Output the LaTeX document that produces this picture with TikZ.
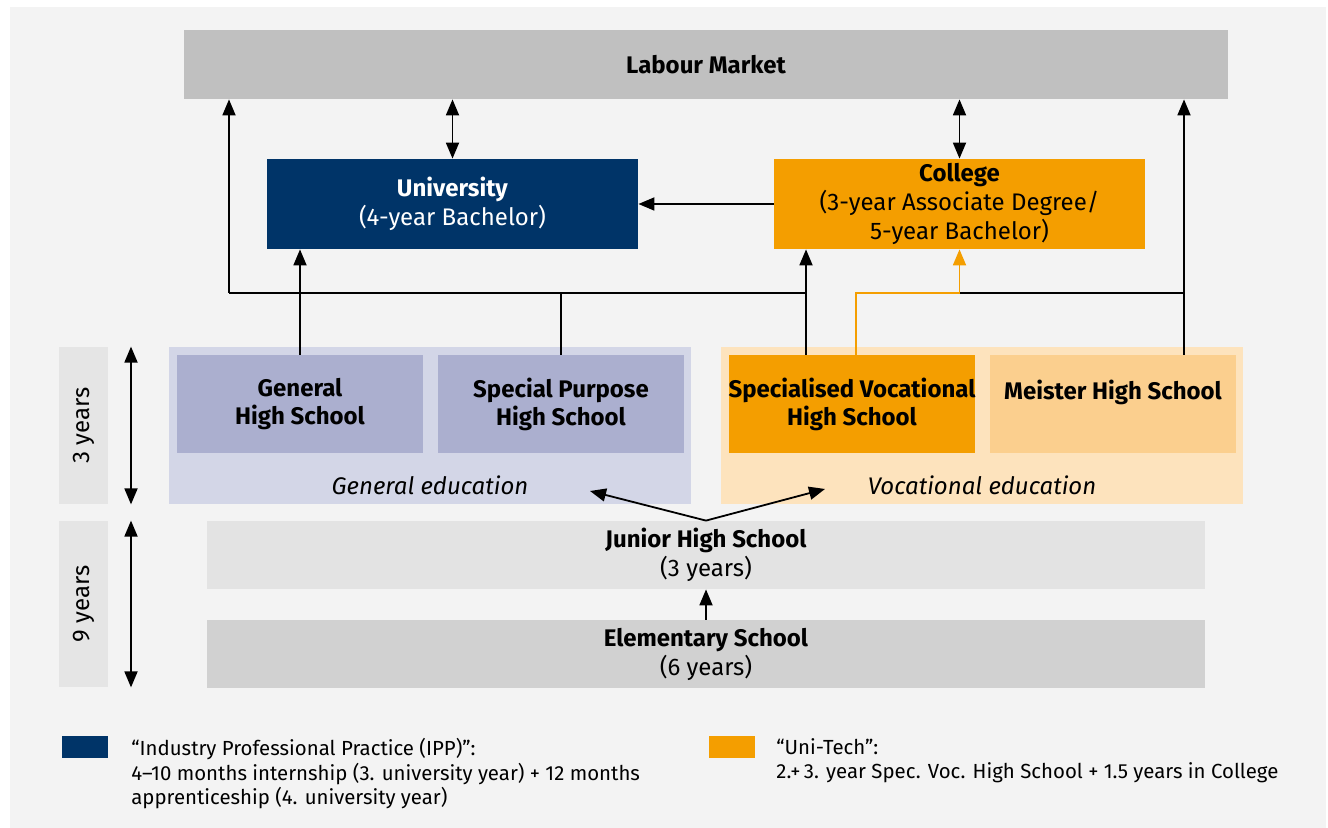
\documentclass[tikz,border=0pt]{standalone}
\usepackage{fontspec}
\setmainfont{Fira Sans}
\usetikzlibrary{arrows.meta}

\definecolor{bggray}{HTML}{F3F3F3}
\definecolor{labourgray}{HTML}{C0C0C0}
\definecolor{uninavy}{HTML}{003468}
\definecolor{techorange}{HTML}{F49E00}
\definecolor{genpanel}{HTML}{D3D6E7}
\definecolor{genbox}{HTML}{ABAFCF}
\definecolor{vocpanel}{HTML}{FDE3BD}
\definecolor{meisterbox}{HTML}{FBCF8E}
\definecolor{juniorgray}{HTML}{E3E3E3}
\definecolor{elemgray}{HTML}{D1D1D1}
\definecolor{yeargray}{HTML}{E5E5E5}

\tikzset{
  box/.style={inner sep=0pt, align=center, font=\fontsize{12}{14.5}\selectfont},
  hsbox/.style={box, minimum width=123pt, minimum height=49pt, font=\fontsize{12}{14}\selectfont\bfseries},
  panel/.style={inner sep=0pt, minimum width=261pt, minimum height=78.5pt},
  yearbox/.style={box, fill=yeargray, rotate=90, minimum height=24.5pt},
  conn/.style={line width=0.9pt, -{Triangle[length=8pt,width=6.5pt]}},
  line/.style={line width=0.9pt},
  twoway/.style={line width=0.9pt, {Triangle[length=8pt,width=6.5pt]}-{Triangle[length=8pt,width=6.5pt]}},
  legtext/.style={inner sep=0pt, anchor=north west, align=left, font=\fontsize{10.2}{12.25}\selectfont}
}

\begin{document}
\begin{tikzpicture}[x=0.5pt, y=-0.5pt]
    \useasboundingbox (0,0) rectangle (1328,828);
    \fill[white] (0,0) rectangle (1328,828);
    \fill[bggray] (10,7) rectangle (1326,828);

    % Top level
    \node[box, fill=labourgray, minimum width=522pt, minimum height=34.5pt, font=\fontsize{12}{14}\selectfont\bfseries] (labour) at (706,64.5) {Labour Market};
    \node[box, fill=uninavy, text=white, minimum width=185.5pt, minimum height=45pt] (univ) at (452.5,204) {\textbf{University}\\(4-year Bachelor)};
    \node[box, fill=techorange, minimum width=185.5pt, minimum height=45pt] (college) at (959.5,204) {\textbf{College}\\(3-year Associate Degree/\\5-year Bachelor)};

    % Upper secondary
    \node[panel, fill=genpanel] (genedu) at (430,425.5) {};
    \node[panel, fill=vocpanel] (vocedu) at (982,425.5) {};
    \node[hsbox, fill=genbox] (genhs) at (300,404) {General\\High School};
    \node[hsbox, fill=genbox] (spechs) at (561,404) {Special Purpose\\High School};
    \node[hsbox, fill=techorange] (spvoc) at (852,404) {Specialised Vocational\\High School};
    \node[hsbox, fill=meisterbox] (meister) at (1113,404) {Meister High School\\\phantom{H}};
    \node[box, font=\fontsize{12}{14}\selectfont\itshape] (genlbl) at ([yshift=9.5pt]genedu.south) {General education};
    \node[box, font=\fontsize{12}{14}\selectfont\itshape] (voclbl) at ([yshift=9.5pt]vocedu.south) {Vocational education};

    % Compulsory
    \node[box, fill=juniorgray, minimum width=499pt, minimum height=34pt] (junior) at (706,555) {\textbf{Junior High School}\\(3 years)};
    \node[box, fill=elemgray, minimum width=499pt, minimum height=34pt] (elem) at (706,654) {\textbf{Elementary School}\\(6 years)};

    % Years (rotated: west is the bottom end, east the top end)
    \node[yearbox, minimum width=78.5pt] (yr3) at (83.5,425.5) {3 years};
    \node[yearbox, minimum width=83pt] (yr9) at (83.5,604) {9 years};
    \draw[twoway] ([xshift=23.75pt]yr3.west) -- ([xshift=23.75pt]yr3.east);
    \draw[twoway] ([xshift=23.75pt]yr9.west) -- ([xshift=23.75pt]yr9.east);

    % Bus line
    \coordinate (bus1) at (229,293);
    \coordinate (bus2) at (806,293);
    \coordinate (bus3) at (960,293);
    \coordinate (bus4) at (1184,293);
    \coordinate (tech) at (856,293);
    \coordinate (jg) at (590,491);
    \coordinate (jv) at (825,489);

    \draw[line] (bus1) -- (bus2);
    \draw[line] (bus3) -- (bus4);
    \draw[conn] (bus1) -- (bus1 |- labour.south);
    \draw[line] (spechs.north) -- (spechs.north |- bus1);
    \draw[conn] (genhs.north) -- (genhs.north |- univ.south);
    \draw[conn] (bus2 |- spvoc.north) -- (bus2 |- college.south);
    \draw[conn] (bus4 |- meister.north) -- (bus4 |- labour.south);
    \draw[conn, techorange] (tech |- spvoc.north) |- (college.south |- tech) -- (college.south);
    \draw[twoway] (univ.north) -- (univ.north |- labour.south);
    \draw[twoway] (college.north) -- (college.north |- labour.south);
    \draw[conn] (college.west) -- (univ.east);

    % Junior high to upper secondary
    \draw[conn] (junior.north) -- (jg);
    \draw[conn] (junior.north) -- (jv);
    \draw[conn] (elem.north) -- (junior.south);

    % Legend
    \node[inner sep=0pt, fill=uninavy, minimum width=23pt, minimum height=11pt] (legipp) at (85,747) {};
    \node[legtext] (ipptext) at (131,738) {“Industry Professional Practice (IPP)”:\\4–10 months internship (3. university year) + 12 months\\apprenticeship (4. university year)};
    \node[inner sep=0pt, fill=techorange, minimum width=23pt, minimum height=11pt] (legtech) at (732,747) {};
    \node[legtext] (techtext) at (776,738) {“Uni-Tech”:\\2.+\,3. year Spec. Voc. High School + 1.5 years in College};
\end{tikzpicture}
\end{document}
